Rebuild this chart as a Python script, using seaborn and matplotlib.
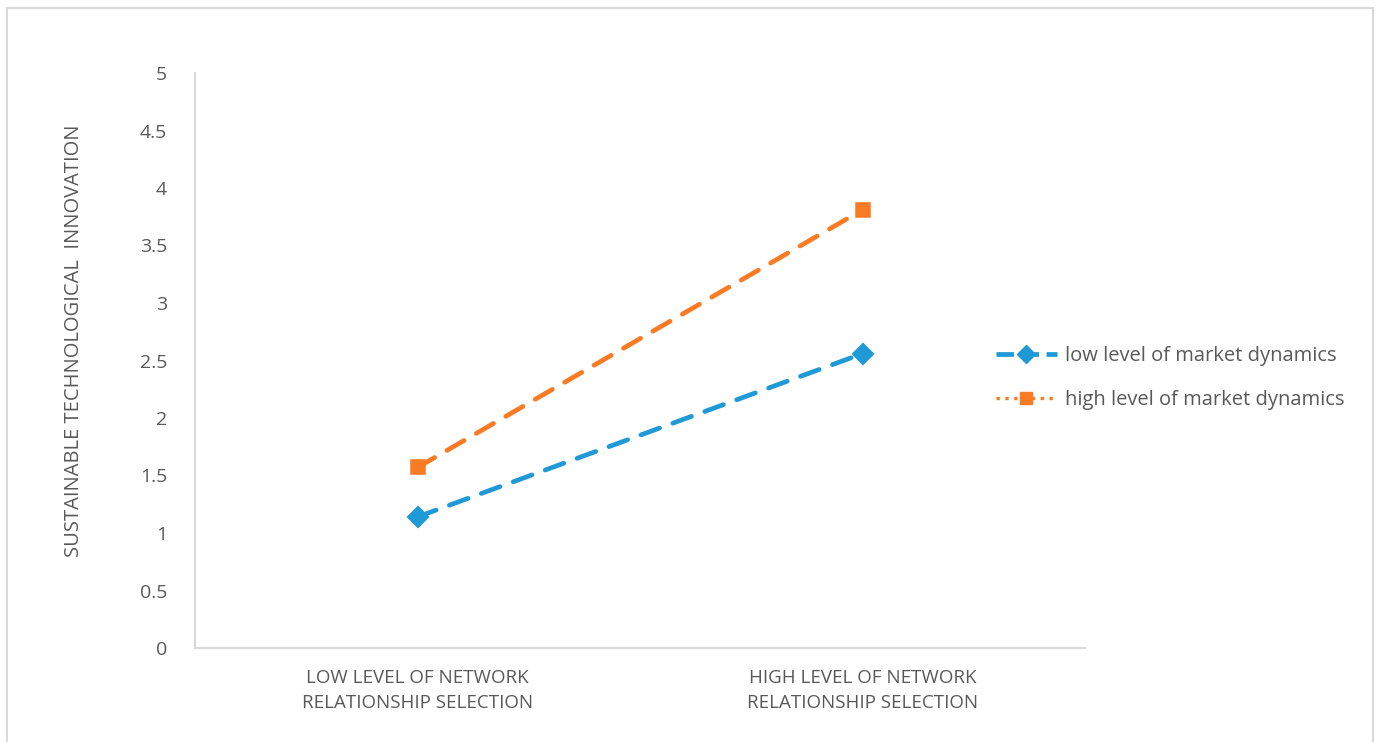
import pandas as pd
import matplotlib
matplotlib.use("Agg")
import matplotlib.pyplot as plt
from matplotlib.lines import Line2D
from matplotlib.patches import Rectangle
import seaborn as sns

# Data
categories = ["LOW LEVEL OF NETWORK\nRELATIONSHIP SELECTION",
              "HIGH LEVEL OF NETWORK\nRELATIONSHIP SELECTION"]
series_names = ["low level of market dynamics", "high level of market dynamics"]
low_dynamics = [1.14, 2.56]
high_dynamics = [1.57, 3.81]

df = pd.DataFrame({
    "selection": categories * 2,
    "value": low_dynamics + high_dynamics,
    "group": [series_names[0]] * 2 + [series_names[1]] * 2,
})

blue = "#1f9ad6"
orange = "#fa7b23"
grey_text = "#595959"
grey_line = "#d9d9d9"

sns.set_theme(style="white")
plt.rcParams["font.family"] = ["Open Sans", "DejaVu Sans"]

fig = plt.figure(figsize=(13.78, 7.42), dpi=100)
ax = fig.add_axes([195 / 1378, 1 - 648 / 742, 890 / 1378, 575 / 742])

sns.pointplot(
    data=df, x="selection", y="value", hue="group",
    palette={series_names[0]: blue, series_names[1]: orange},
    markers=["D", "s"], linestyles=["--", "--"],
    markersize=9, linewidth=3.4, errorbar=None, legend=False, ax=ax,
)
for line in ax.lines:
    line.set_dashes((4.2, 3))
    line.set_dash_capstyle("round")

ax.set_xlim(-0.5, 1.5)
ax.set_ylim(0, 5)
ax.set_yticks([0, 0.5, 1, 1.5, 2, 2.5, 3, 3.5, 4, 4.5, 5])
ax.set_yticklabels(["0", "0.5", "1", "1.5", "2", "2.5", "3", "3.5", "4", "4.5", "5"])
ax.tick_params(axis="y", colors=grey_text, labelsize=14, length=0, pad=20)
ax.tick_params(axis="x", colors=grey_text, labelsize=13.5, length=0, pad=15)
for lbl in ax.get_xticklabels():
    lbl.set_linespacing(1.5)

ax.set_xlabel("")
ax.set_ylabel("SUSTAINABLE TECHNOLOGICAL  INNOVATION", color=grey_text, fontsize=14.5)
ax.yaxis.set_label_coords(-0.125, 0.535)

for side in ["top", "right"]:
    ax.spines[side].set_visible(False)
for side in ["left", "bottom"]:
    ax.spines[side].set_color(grey_line)
    ax.spines[side].set_linewidth(1.5)

handles = [
    Line2D([], [], color=blue, lw=3.4, ls="--", marker="D", markersize=9),
    Line2D([], [], color=orange, lw=2.4, ls=":", marker="s", markersize=9),
]
leg = fig.legend(handles, series_names, loc="center left",
                 bbox_to_anchor=(978 / 1378, 1 - 378 / 742), frameon=False,
                 fontsize=14.5, labelcolor=grey_text, handlelength=3.0,
                 handletextpad=0.4, labelspacing=1.2)

fig.patches.append(Rectangle((7 / 1378, -0.01), 1366 / 1378, 1 - 8 / 742 + 0.01,
                             transform=fig.transFigure, fill=False,
                             edgecolor=grey_line, linewidth=1.5))

fig.savefig("out.png", dpi=100)
